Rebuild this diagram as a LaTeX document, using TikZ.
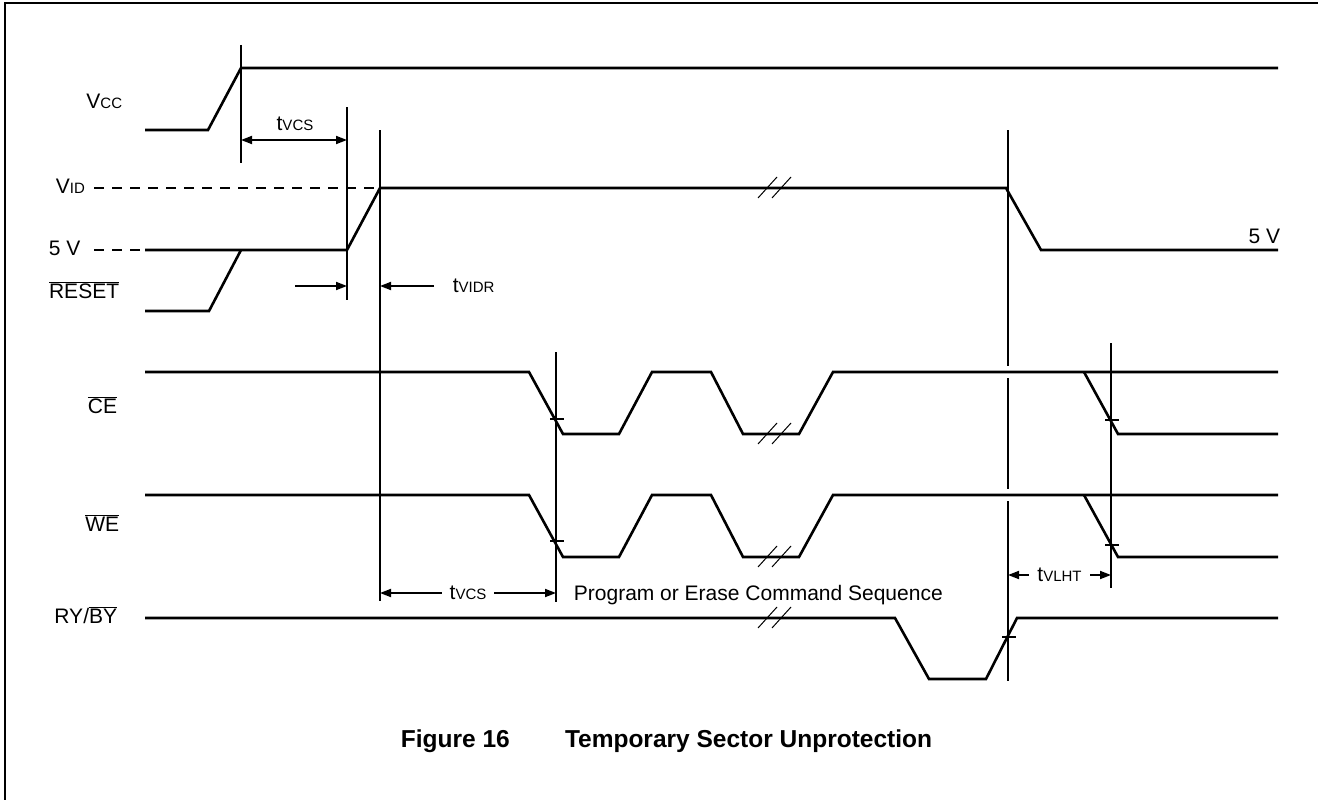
\documentclass[tikz,border=0pt]{standalone}
\usepackage{fontspec}
\setmainfont{Liberation Sans}
\usetikzlibrary{arrows.meta}
\newcommand{\sm}[1]{{\fontsize{15}{15}\selectfont #1}}
\newcommand{\ovl}[1]{$\overline{\mbox{#1}}$}
\begin{document}
\begin{tikzpicture}[x=1pt,y=-1pt,line width=1.8pt,
    font=\fontsize{21}{25}\selectfont,inner sep=0pt,
    sig/.style={line width=2.6pt},
    vline/.style={line width=1.8pt},
    level/.style={line width=1.8pt,dash pattern=on 10pt off 8pt},
    cut/.style={line width=1pt},
    tip/.tip={Triangle[length=11pt,width=8pt]},
    dim/.style={line width=1.8pt,-tip},
    dimlabel/.style={fill=white,inner xsep=8pt,inner ysep=2pt}]
    \path[use as bounding box] (0,0) rectangle (1318,800);
    \draw[line width=1.8pt] (5,800) -- (5,3) -- (1318,3);
    % signal names
    \node[anchor=east] (vcc) at (123,101) {V\sm{CC}};
    \node[anchor=west] (vid) at (55,186) {V\sm{ID}};
    \node[anchor=west] (fivel) at (48,248) {5 V};
    \node[anchor=east] (reset) at (120,290) {\ovl{RESET}};
    \node[anchor=east] (ce) at (118,405) {\ovl{CE}};
    \node[anchor=east] (we) at (120,523) {\ovl{WE}};
    \node[anchor=east] (rdy) at (118,615) {RY/\ovl{BY}};
    \node[anchor=east] (fiver) at (1281,236) {5 V};
    % levels
    \draw[level] (94,188) -- (380,188);
    \draw[level] (94,250) -- (145,250);
    % waveforms
    \draw[sig] (145,130) -- (208,130) -- (241,68) -- (1278,68);
    \draw[sig] (145,311) -- (209,311) -- (241,250);
    \draw[sig] (145,250) -- (347,250) -- (380,188) -- (1006,188)
      -- (1041,250) -- (1278,250);
    \foreach \y/\d in {372/62,495/62} {
      \draw[sig] (145,\y) -- (529,\y) -- (563,\y+\d) -- (619,\y+\d)
        -- (652,\y) -- (711,\y) -- (743,\y+\d) -- (799,\y+\d)
        -- (833,\y) -- (1278,\y);
      \draw[sig] (1084,\y) -- (1118,\y+\d) -- (1278,\y+\d);
    }
    \draw[sig] (145,618) -- (895,618) -- (929,679) -- (986,679)
      -- (1017,618) -- (1278,618);
    % timing markers
    \draw[vline] (241,45) -- (241,163);
    \draw[vline] (347,107) -- (347,300);
    \draw[vline] (380,130) -- (380,601);
    \draw[vline] (556,352) -- (556,602);
    \draw[vline] (1008,130) -- (1008,366);
    \draw[vline] (1008,378) -- (1008,489);
    \draw[vline] (1008,501) -- (1008,681);
    \draw[vline] (1111,343) -- (1111,588);
    \foreach \tx/\ty in {556/419,556/541,1111/420,1111/545,1008/637}
      \draw[vline] (\tx-6,\ty) -- (\tx+8,\ty);
    % breaks
    \foreach \cx/\cy in {774/188,774/434,774/557,774/618} {
      \draw[cut] (\cx-16,\cy+10) -- (\cx+3,\cy-11);
      \draw[cut] (\cx-2,\cy+10) -- (\cx+17,\cy-11);
    }
    % timing parameters
    \draw[dim,tip-tip] (241,140) -- (347,140);
    \node (tvcsa) at (295,124) {t\sm{VCS}};
    \draw[dim] (295,286) -- (347,286);
    \draw[dim] (434,286) -- (380,286);
    \node[anchor=west] (tvidr) at (452,286) {t\sm{VIDR}};
    \draw[dim,tip-tip] (380,593) -- (556,593)
      node[midway,dimlabel] (tvcsb) {t\sm{VCS}};
    \node[anchor=west] (cmd) at (573,595) {Program or Erase Command Sequence};
    \draw[dim,tip-tip] (1008,575) -- (1111,575)
      node[midway,dimlabel] (tvlht) {t\sm{VLHT}};
    % caption
    \node[anchor=west,font=\fontsize{24.5}{28}\selectfont\bfseries] (fig) at (400,741) {Figure 16};
    \node[anchor=east,font=\fontsize{24.5}{28}\selectfont\bfseries] (title) at (933,741) {Temporary Sector Unprotection};
  \end{tikzpicture}
\end{document}
